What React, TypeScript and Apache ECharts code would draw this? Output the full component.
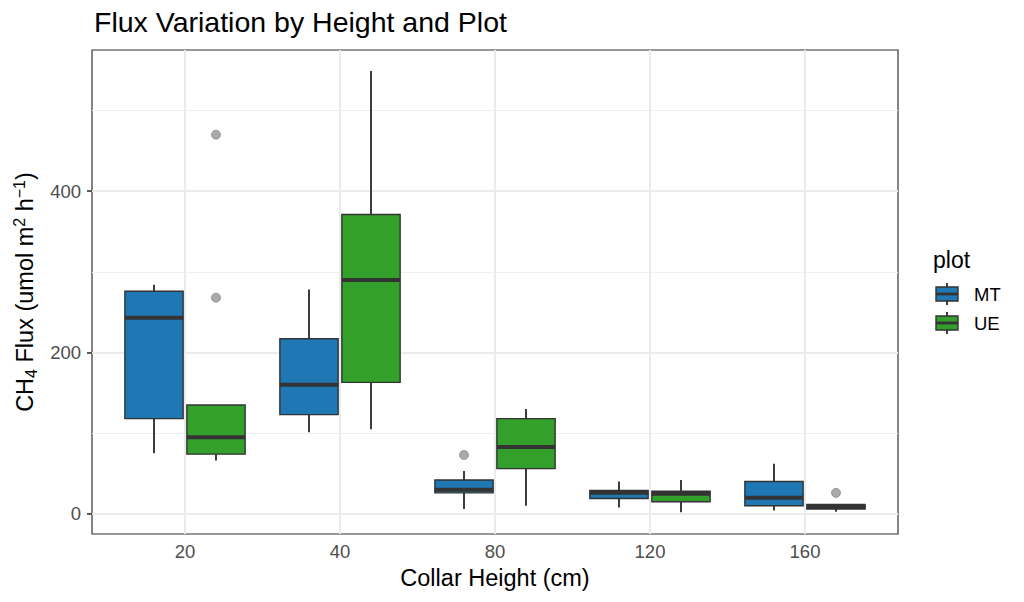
import React, { useEffect, useRef } from "react";
import * as echarts from "echarts";

const categories = ["20", "40", "80", "120", "160"];
const plotNames = ["MT", "UE"];
const plotColors = ["#1F78B4", "#33A02C"];

// MT box statistics per collar height
const mtLow = [75, 101, 6, 8, 4];
const mtQ1 = [118, 123, 26, 19, 10];
const mtMed = [243, 160, 30, 26, 20];
const mtQ3 = [276, 217, 42, 29, 40];
const mtHigh = [284, 278, 53, 40, 62];

// UE box statistics per collar height
const ueLow = [66, 105, 10, 2, 2.5];
const ueQ1 = [74, 163, 56, 15, 6];
const ueMed = [95, 290, 83, 25, 8.5];
const ueQ3 = [135, 371, 118, 28, 11.5];
const ueHigh = [135, 549, 130, 42, 12];

// outliers: category index (0-based) and value
const mtOutlierCat = [2];
const mtOutlierVal = [73];
const ueOutlierCat = [0, 0, 4];
const ueOutlierVal = [470, 268, 26];

const yMajorTicks = [0, 200, 400];
const yMinorTicks = [100, 300, 500];

const FONT = "'Liberation Sans', Arial, Helvetica, sans-serif";
const DODGE = 0.2;
const HALF = 0.188;

function boxData(low: number[], q1: number[], med: number[], q3: number[], high: number[], offset: number) {
  return categories.map((_, i) => [i + 1 + offset, low[i], q1[i], med[i], q3[i], high[i]]);
}

function makeRender(color: string) {
  return (params: any, api: any) => {
    const x = api.value(0);
    const low = api.value(1);
    const q1 = api.value(2);
    const med = api.value(3);
    const q3 = api.value(4);
    const high = api.value(5);
    const tl = api.coord([x - HALF, q3]);
    const br = api.coord([x + HALF, q1]);
    const c = api.coord([x, med]);
    const yLow = api.coord([x, low])[1];
    const yHigh = api.coord([x, high])[1];
    const stroke = "#333333";
    return {
      type: "group",
      children: [
        { type: "line", shape: { x1: c[0], y1: yHigh, x2: c[0], y2: tl[1] }, style: { stroke, lineWidth: 1.9 } },
        { type: "line", shape: { x1: c[0], y1: br[1], x2: c[0], y2: yLow }, style: { stroke, lineWidth: 1.9 } },
        {
          type: "rect",
          shape: { x: tl[0], y: tl[1], width: br[0] - tl[0], height: br[1] - tl[1] },
          style: { fill: color, stroke, lineWidth: 1.4 },
        },
        { type: "line", shape: { x1: tl[0], y1: c[1], x2: br[0], y2: c[1] }, style: { stroke, lineWidth: 4 } },
      ],
    };
  };
}

function legendGraphic() {
  const children: any[] = [
    { type: "text", left: 933, top: 248, style: { text: "plot", font: `23px ${FONT}`, fill: "#000" } },
  ];
  plotNames.forEach((name, i) => {
    const y0 = 283 + i * 29;
    children.push(
      { type: "line", shape: { x1: 947, y1: y0, x2: 947, y2: y0 + 22 }, style: { stroke: "#333", lineWidth: 1.9 } },
      { type: "rect", shape: { x: 936, y: y0 + 4, width: 22, height: 14 }, style: { fill: plotColors[i], stroke: "#333", lineWidth: 1.4 } },
      { type: "line", shape: { x1: 936, y1: y0 + 11, x2: 958, y2: y0 + 11 }, style: { stroke: "#333", lineWidth: 2.8 } },
      { type: "text", left: 974, top: y0 + 2, style: { text: name, font: `18.5px ${FONT}`, fill: "#000" } }
    );
  });
  return children;
}

export default function App() {
  const ref = useRef<HTMLDivElement>(null);
  useEffect(() => {
    if (!ref.current) return;
    const chart = echarts.init(ref.current, null, { renderer: "svg" });
    const catTicks = categories.map((_, i) => i + 1);
    const option: any = {
      animation: false,
      backgroundColor: "#ffffff",
      textStyle: { fontFamily: FONT },
      title: {
        text: "Flux Variation by Height and Plot",
        left: 94,
        top: 7,
        padding: 0,
        textStyle: { fontFamily: FONT, fontSize: 28.5, fontWeight: "normal", color: "#000" },
      },
      grid: {
        left: 92,
        top: 50,
        width: 806,
        height: 484,
        show: true,
        borderColor: "#333333",
        borderWidth: 1.2,
        backgroundColor: "transparent",
      },
      xAxis: {
        type: "value",
        min: 0.4,
        max: 5.6,
        name: "Collar Height (cm)",
        nameLocation: "middle",
        nameGap: 31,
        nameTextStyle: { fontFamily: FONT, fontSize: 23.5, color: "#000" },
        axisLine: { show: false },
        axisTick: { show: true, length: 5, customValues: catTicks, lineStyle: { color: "#333", width: 1.6 } },
        axisLabel: {
          customValues: catTicks,
          formatter: (v: number) => categories[Math.round(v) - 1] ?? "",
          fontFamily: FONT,
          fontSize: 18.5,
          color: "#4D4D4D",
          margin: 8,
        },
        splitLine: { show: false },
      },
      yAxis: {
        type: "value",
        min: -25,
        max: 575,
        name: "{n|CH}{sub|4}{n| Flux (umol m}{sup|2}{n| h}{sup|−1}{n|)}",
        nameLocation: "middle",
        nameGap: 47,
        nameRotate: 90,
        nameTextStyle: {
          fontFamily: FONT,
          fontSize: 23.5,
          color: "#000",
          rich: {
            n: { fontFamily: FONT, fontSize: 23.5, lineHeight: 28, color: "#000" },
            sub: { fontFamily: FONT, fontSize: 16, lineHeight: 16, verticalAlign: "bottom", color: "#000" },
            sup: { fontFamily: FONT, fontSize: 16, lineHeight: 16, verticalAlign: "top", color: "#000" },
          },
        },
        axisLine: { show: false },
        axisTick: { show: true, length: 5, customValues: yMajorTicks, lineStyle: { color: "#333", width: 1.6 } },
        axisLabel: {
          customValues: yMajorTicks,
          fontFamily: FONT,
          fontSize: 18.5,
          color: "#4D4D4D",
          margin: 11,
        },
        splitLine: { show: false },
      },
      series: [
        {
          name: "MT",
          type: "custom",
          z: 10,
          renderItem: makeRender(plotColors[0]),
          encode: { x: 0, y: [1, 2, 3, 4, 5] },
          data: boxData(mtLow, mtQ1, mtMed, mtQ3, mtHigh, -DODGE),
        },
        {
          name: "UE",
          type: "custom",
          z: 10,
          renderItem: makeRender(plotColors[1]),
          encode: { x: 0, y: [1, 2, 3, 4, 5] },
          data: boxData(ueLow, ueQ1, ueMed, ueQ3, ueHigh, DODGE),
        },
        {
          name: "outliers",
          type: "scatter",
          z: 11,
          symbol: "circle",
          symbolSize: 9,
          itemStyle: { color: "#959595", borderColor: "#777777", borderWidth: 0.8 },
          data: [
            ...mtOutlierCat.map((c, i) => [c + 1 - DODGE, mtOutlierVal[i]]),
            ...ueOutlierCat.map((c, i) => [c + 1 + DODGE, ueOutlierVal[i]]),
          ],
          markLine: {
            silent: true,
            symbol: ["none", "none"],
            label: { show: false },
            animation: false,
            lineStyle: { color: "#EBEBEB", type: "solid", width: 2 },
            data: [
              ...yMinorTicks.map((v) => ({ yAxis: v, lineStyle: { color: "#F0F0F0", type: "solid", width: 1.2 } })),
              ...yMajorTicks.map((v) => ({ yAxis: v })),
              ...catTicks.map((v) => ({ xAxis: v })),
            ],
          },
        },
      ],
      graphic: legendGraphic(),
    };
    chart.setOption(option);
    return () => chart.dispose();
  }, []);
  return <div ref={ref} style={{ width: 1024, height: 602, margin: -8 }} />;
}
